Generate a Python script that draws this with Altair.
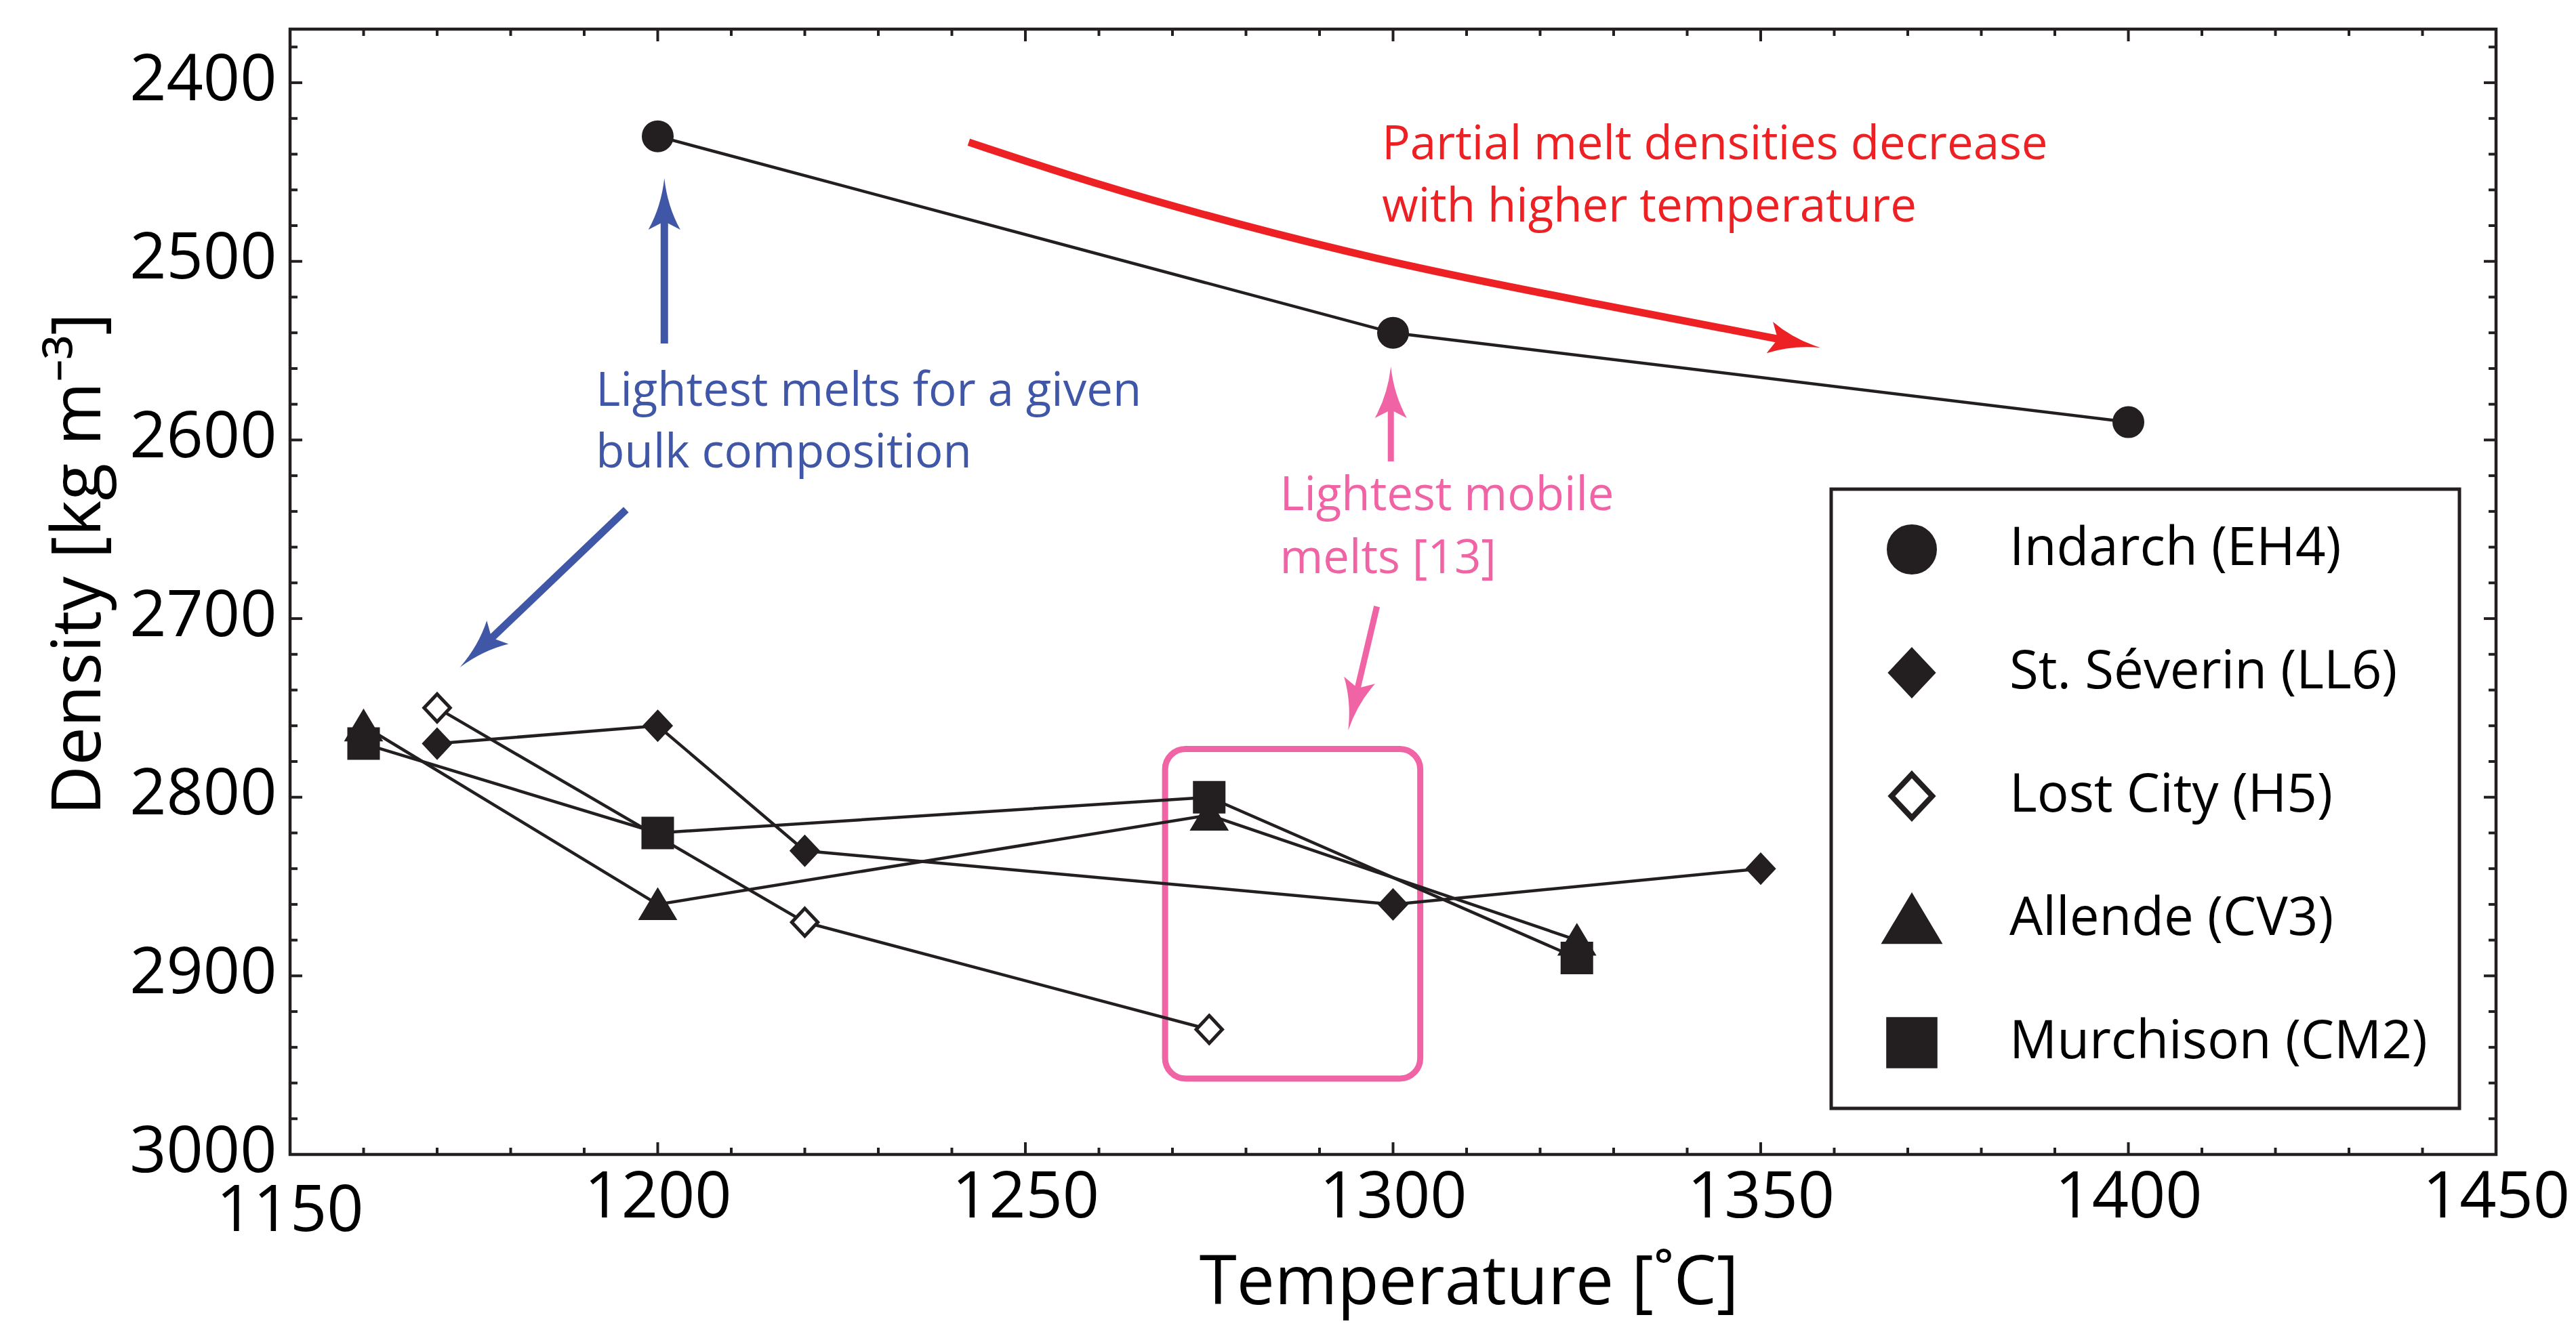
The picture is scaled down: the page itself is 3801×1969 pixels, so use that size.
import altair as alt
import pandas as pd

# ---------------- data ----------------
SERIES = ["Indarch (EH4)", "St. Séverin (LL6)", "Lost City (H5)", "Allende (CV3)", "Murchison (CM2)"]
INDARCH_T = [1200, 1300, 1400]
INDARCH_D = [2430, 2540, 2590]
SEVERIN_T = [1170, 1200, 1220, 1300, 1350]
SEVERIN_D = [2770, 2760, 2830, 2860, 2840]
LOSTCITY_T = [1170, 1220, 1275]
LOSTCITY_D = [2750, 2870, 2930]
ALLENDE_T = [1160, 1200, 1275, 1325]
ALLENDE_D = [2760, 2860, 2810, 2880]
MURCHISON_T = [1160, 1200, 1275, 1325]
MURCHISON_D = [2770, 2820, 2800, 2890]

X_MAJOR = [1150, 1200, 1250, 1300, 1350, 1400, 1450]
X_MINOR = [v for v in range(1160, 1450, 10) if v % 50 != 0]
X_LABELS = [1200, 1250, 1300, 1350, 1400, 1450]
X_LOW_LABEL = [1150]
Y_MAJOR = [2400, 2500, 2600, 2700, 2800, 2900, 3000]
Y_MINOR = [v for v in range(2380, 3000, 20) if v % 100 != 0]

# annotations (data units)
TXT_T = [1298.5, 1298.5, 1191.6, 1191.6, 1284.6, 1284.6]
TXT_D = [2442.8, 2477.7, 2580.9, 2615.4, 2639.3, 2674.6]
TXT_S = ["Partial melt densities decrease", "with higher temperature",
         "Lightest melts for a given", "bulk composition",
         "Lightest mobile", "melts [13]"]
TXT_K = ["red", "red", "blue", "blue", "pink", "pink"]

SHAFT_ID = ["r"] * 6 + ["b1", "b1", "b2", "b2", "p1", "p1", "p2", "p2"]
SHAFT_T = [1242.3, 1259.0, 1278.4, 1301.7, 1326.9, 1352.9,
           1200.9, 1200.9, 1195.7, 1177.05, 1299.7, 1299.7, 1297.8, 1295.06]
SHAFT_D = [2433.3, 2456.1, 2478.9, 2502.8, 2523.2, 2543.9,
           2546.0, 2476.0, 2639.0, 2712.3, 2612.0, 2581.3, 2693.2, 2741.1]
SHAFT_K = ["red"] * 6 + ["blue"] * 4 + ["pink"] * 4

HEAD_T = [1358.1, 1200.9, 1173.1, 1299.7, 1293.9]
HEAD_D = [2548.3, 2453.4, 2727.3, 2558.9, 2762.6]
HEAD_A = [101.4, 0, 227.1, 0, 192.8]
HEAD_K = ["red", "blue", "blue", "pink", "pink"]

BOX_T = [1269.0]
BOX_T2 = [1303.7]
BOX_D = [2773.0]
BOX_D2 = [2957.5]

# ---------------- styles ----------------
INK = "#231f20"
COLORS = {"red": "#ED2024", "blue": "#4056A6", "pink": "#F064A5"}
WIDTHS = {"red": 11, "blue": 11, "pink": 9}
FONT = "Open Sans"
W, H = 3255, 1661

SHAPES = [
    "M0.875,0A0.875,0.875,0,1,1,-0.875,0A0.875,0.875,0,1,1,0.875,0Z",
    "M0,-0.85L0.8,0L0,0.85L-0.8,0Z",
    "M0,-0.85L0.8,0L0,0.85L-0.8,0Z",
    "M0,-0.854L1.02,0.854L-1.02,0.854Z",
    "M-0.896,-0.896L0.896,-0.896L0.896,0.896L-0.896,0.896Z",
]
FILLS = [INK, INK, "white", INK, INK]
STROKES = [INK] * 5
HEAD_PATH = "M0,0Q0.12,1.1 0.62,2L0,1.68L-0.62,2Q-0.12,1.1 0,0Z"

# ---------------- frames ----------------
rows = []
for name, T, D in zip(SERIES, [INDARCH_T, SEVERIN_T, LOSTCITY_T, ALLENDE_T, MURCHISON_T],
                      [INDARCH_D, SEVERIN_D, LOSTCITY_D, ALLENDE_D, MURCHISON_D]):
    for t, d in zip(T, D):
        rows.append({"series": name, "T": t, "D": d})
df = pd.DataFrame(rows)

txt = pd.DataFrame({"T": TXT_T, "D": TXT_D, "s": TXT_S, "c": [COLORS[k] for k in TXT_K]})
shafts = pd.DataFrame({"id": SHAFT_ID, "T": SHAFT_T, "D": SHAFT_D,
                       "c": [COLORS[k] for k in SHAFT_K], "w": [WIDTHS[k] for k in SHAFT_K],
                       "o": list(range(len(SHAFT_ID)))})
heads = pd.DataFrame({"T": HEAD_T, "D": HEAD_D, "a": HEAD_A, "c": [COLORS[k] for k in HEAD_K]})
box = pd.DataFrame({"T": BOX_T, "T2": BOX_T2, "D": BOX_D, "D2": BOX_D2})

xscale = alt.Scale(domain=[1150, 1450], nice=False, zero=False)
yscale = alt.Scale(domain=[2370, 3000], reverse=True, nice=False, zero=False)

XAXIS = alt.Axis(title="Temperature [˚C]", values=X_LABELS, format="d", ticks=False, tickSize=0,
                 domain=False, grid=False, labelFontSize=95, labelPadding=17, labelFlush=False,
                 labelOverlap=False, labelLimit=1000, titleFontSize=100, titleX=1739, titleY=220,
                 titleBaseline="alphabetic", titleAlign="center", titleLimit=3000)
YAXIS = alt.Axis(title="Density [kg m⁻³]", values=Y_MAJOR, format="d", ticks=False, tickSize=0,
                 domain=False, grid=False, labelFontSize=95, labelPadding=20, labelOffset=-4,
                 labelFlush=False, labelOverlap=False, labelLimit=1000, titleFontSize=101,
                 titleX=-281, titleY=789, titleAngle=270, titleBaseline="alphabetic",
                 titleAlign="center", titleLimit=3000)


def X(f):
    return alt.X(f, type="quantitative", scale=xscale, axis=XAXIS)


def Y(f):
    return alt.Y(f, type="quantitative", scale=yscale, axis=YAXIS)


LEG = alt.Legend(title=None, orient="none", legendX=2274, legendY=679, padding=47,
                 rowPadding=82, symbolSize=5685, symbolStrokeWidth=8, symbolStrokeColor=INK,
                 symbolOffset=30, labelOffset=102, labelFont=FONT, labelFontSize=78,
                 labelColor="black", labelLimit=2000, strokeColor=INK,
                 fillColor="white", gridAlign="all")

boxes = alt.Chart(box).mark_rect(fill="transparent", stroke=COLORS["pink"], strokeWidth=9,
                                 cornerRadius=30).encode(
    x=X("T"), x2="T2", y=Y("D"), y2="D2")

lines = alt.Chart(df).mark_line(color=INK, strokeWidth=4.5).encode(
    x=X("T"), y=Y("D"), detail="series:N", order="T:Q")

points = alt.Chart(df).mark_point(filled=True, size=2304, strokeWidth=5, opacity=1).encode(
    x=X("T"), y=Y("D"),
    shape=alt.Shape("series:N", scale=alt.Scale(domain=SERIES, range=SHAPES), legend=LEG),
    fill=alt.Fill("series:N", scale=alt.Scale(domain=SERIES, range=FILLS), legend=LEG),
    stroke=alt.Stroke("series:N", scale=alt.Scale(domain=SERIES, range=STROKES), legend=LEG),
)

shaft_layer = alt.Chart(shafts).mark_line(interpolate="basis", strokeCap="butt").encode(
    x=X("T"), y=Y("D"), detail="id:N", order="o:Q",
    color=alt.Color("c:N", scale=None), strokeWidth=alt.StrokeWidth("w:Q", scale=None))

head_layer = alt.Chart(heads).mark_point(filled=True, size=5776, shape=HEAD_PATH,
                                         strokeWidth=0, opacity=1).encode(
    x=X("T"), y=Y("D"), angle=alt.Angle("a:Q", scale=None),
    color=alt.Color("c:N", scale=None))

text_layer = alt.Chart(txt).mark_text(align="left", baseline="alphabetic", font=FONT,
                                      fontSize=69).encode(
    x=X("T"), y=Y("D"), text="s:N", color=alt.Color("c:N", scale=None))

low_label = alt.Chart(pd.DataFrame({"v": X_LOW_LABEL})).mark_text(
    align="center", baseline="top", font=FONT, fontSize=95, color="black").encode(
    x=X("v"), y=alt.value(H + 38), text=alt.Text("v:Q", format="d"))


def xticks(vals, ln):
    d = pd.DataFrame({"v": vals})
    bot = alt.Chart(d).mark_rule(color=INK, strokeWidth=4).encode(
        x=X("v"), y=alt.value(H), y2=alt.value(H - ln))
    top = alt.Chart(d).mark_rule(color=INK, strokeWidth=4).encode(
        x=X("v"), y=alt.value(0), y2=alt.value(ln))
    return [bot, top]


def yticks(vals, ln):
    d = pd.DataFrame({"v": vals})
    left = alt.Chart(d).mark_rule(color=INK, strokeWidth=4).encode(
        y=Y("v"), x=alt.value(0), x2=alt.value(ln))
    right = alt.Chart(d).mark_rule(color=INK, strokeWidth=4).encode(
        y=Y("v"), x=alt.value(W), x2=alt.value(W - ln))
    return [left, right]


tick_layers = xticks(X_MAJOR, 18) + xticks(X_MINOR, 10) + yticks(Y_MAJOR, 18) + yticks(Y_MINOR, 11)

chart = alt.layer(boxes, lines, points, shaft_layer, head_layer, text_layer, low_label,
                  *tick_layers).properties(
    width=W, height=H,
    autosize=alt.AutoSizeParams(type="none"),
    padding={"left": 420, "top": 35, "right": 110, "bottom": 257},
).configure(background="white").configure_view(
    stroke=INK, strokeWidth=4.5
).configure_axis(
    labelFont=FONT, titleFont=FONT, labelColor="black", titleColor="black",
    titleFontWeight="normal"
).configure_legend(strokeWidth=5)

chart.save("out.html", embed_options={"renderer": "svg", "actions": False})
